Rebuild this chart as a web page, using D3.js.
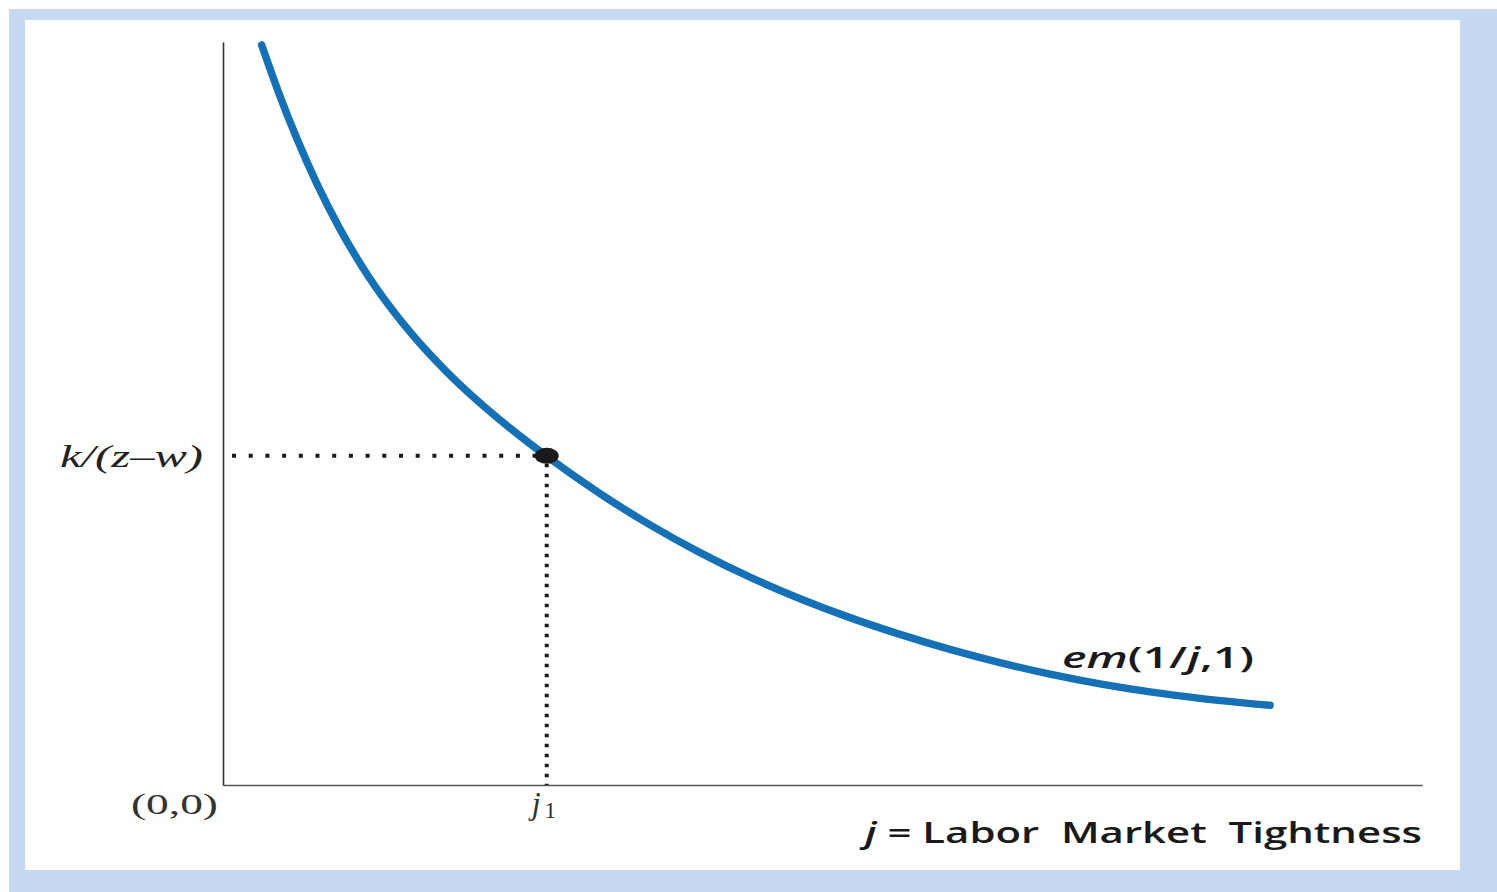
<!DOCTYPE html>
<html>
<head>
<meta charset="utf-8">
<script src="https://cdn.jsdelivr.net/npm/d3@7"></script>
<style>
  html, body { margin: 0; padding: 0; background: #ffffff; }
  svg { display: block; }
</style>
</head>
<body>
<svg id="chart" width="1497" height="892"></svg>
<script>
// ---- data (abstract units: j on x, cost/value on y) ----
const curveJ  = [0.387, 0.570, 0.738, 0.938, 1.171, 1.404, 1.671, 1.939, 2.239, 2.539, 2.890, 3.240, 3.773, 4.274, 4.774, 5.274, 5.776, 6.275, 6.776, 7.276, 7.776, 8.277, 8.777, 9.278, 9.778, 10.479];
const curveEm = [9.960, 9.272, 8.704, 8.097, 7.482, 6.953, 6.436, 5.992, 5.561, 5.181, 4.784, 4.424, 3.922, 3.501, 3.128, 2.798, 2.508, 2.253, 2.027, 1.825, 1.647, 1.492, 1.361, 1.253, 1.166, 1.072];
const eqJ = 3.24;          // j1
const eqY = 4.43;          // k/(z-w)
const xDomain = [0, 12];
const yDomain = [0, 10];
const yTickLabel = "k/(z\u2013w)";
const originLabel = "(0,0)";
const curveLabel = ["em", "(1/", "j", ",1)"];
const xAxisTitle = ["j", " = Labor  Market  Tightness"];

const svg = d3.select("#chart");

// frame
svg.append("rect").attr("x", 9).attr("y", 9).attr("width", 1488).attr("height", 883).attr("fill", "#c6d9f0");
svg.append("rect").attr("x", 25).attr("y", 20).attr("width", 1435).attr("height", 850).attr("fill", "#ffffff");

const x = d3.scaleLinear().domain(xDomain).range([223, 1422]);
const y = d3.scaleLinear().domain(yDomain).range([785, 42]);

// axes (no ticks)
svg.append("g").attr("transform", "translate(0,785)")
  .call(d3.axisBottom(x).tickValues([]).tickSizeOuter(0))
  .call(g => g.select(".domain").attr("stroke", "#555").attr("stroke-width", 1.6));
svg.append("g").attr("transform", "translate(223,0)")
  .call(d3.axisLeft(y).tickValues([]).tickSizeOuter(0))
  .call(g => g.select(".domain").attr("stroke", "#333").attr("stroke-width", 1.6));

// dotted guide lines
svg.append("line")
  .attr("x1", x(0) + 9).attr("x2", x(eqJ) - 10)
  .attr("y1", y(eqY)).attr("y2", y(eqY))
  .attr("stroke", "#1a1a1a").attr("stroke-width", 4)
  .attr("stroke-dasharray", "4,12.7");
svg.append("line")
  .attr("x1", x(eqJ)).attr("x2", x(eqJ))
  .attr("y1", y(eqY) + 8).attr("y2", y(0))
  .attr("stroke", "#1a1a1a").attr("stroke-width", 4)
  .attr("stroke-dasharray", "3.5,6.5");

// curve
const pts = curveJ.map((d, i) => [d, curveEm[i]]);
svg.append("path")
  .datum(pts)
  .attr("fill", "none")
  .attr("stroke", "#1570b5")
  .attr("stroke-width", 7.5)
  .attr("stroke-linecap", "round")
  .attr("d", d3.line().x(d => x(d[0])).y(d => y(d[1])).curve(d3.curveMonotoneX));

// equilibrium point
svg.append("ellipse")
  .attr("cx", x(eqJ)).attr("cy", y(eqY))
  .attr("rx", 12).attr("ry", 8)
  .attr("fill", "#1a1a1a");

// labels
svg.append("text")
  .attr("x", 60).attr("y", y(eqY) + 11)
  .attr("font-family", "Liberation Serif, serif").attr("font-style", "italic")
  .attr("font-size", 31).attr("fill", "#222")
  .attr("textLength", 143).attr("lengthAdjust", "spacingAndGlyphs")
  .text(yTickLabel);

svg.append("text")
  .attr("x", 131).attr("y", 814)
  .attr("font-family", "Liberation Serif, serif")
  .attr("font-size", 30).attr("fill", "#333")
  .attr("textLength", 87).attr("lengthAdjust", "spacingAndGlyphs")
  .text(originLabel);

const j1 = svg.append("text")
  .attr("x", x(eqJ) - 15).attr("y", 814)
  .attr("font-family", "Liberation Serif, serif")
  .attr("font-size", 32).attr("fill", "#333");
j1.append("tspan").attr("font-style", "italic").text("j");
j1.append("tspan").attr("font-size", 23).attr("dx", 4).attr("dy", 4).text("1");

const cl = svg.append("text")
  .attr("x", 1062).attr("y", 668)
  .attr("font-family", "Open Sans, sans-serif").attr("font-weight", 600)
  .attr("font-size", 28).attr("fill", "#1a1a1a")
  .attr("textLength", 192).attr("lengthAdjust", "spacingAndGlyphs");
cl.append("tspan").attr("font-style", "italic").text(curveLabel[0]);
cl.append("tspan").text(curveLabel[1]);
cl.append("tspan").attr("font-style", "italic").text(curveLabel[2]);
cl.append("tspan").text(curveLabel[3]);

const xt = svg.append("text")
  .attr("x", 865).attr("y", 843)
  .attr("font-family", "Open Sans, sans-serif").attr("font-weight", 600)
  .attr("font-size", 29).attr("fill", "#1a1a1a")
  .attr("textLength", 557).attr("lengthAdjust", "spacingAndGlyphs")
  .attr("xml:space", "preserve").style("white-space", "pre");
xt.append("tspan").attr("font-style", "italic").text(xAxisTitle[0]);
xt.append("tspan").text(xAxisTitle[1]);
</script>
</body>
</html>
